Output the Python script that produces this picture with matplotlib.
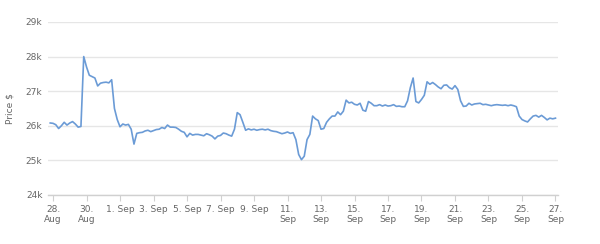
import numpy as np
import pandas as pd
import matplotlib
matplotlib.use("Agg")
from matplotlib import pyplot as plt
import matplotlib.dates as mdates

# price readings every 4 hours, starting 27 Aug 20:00
start_time = "2023-08-27 20:00"
price = [
    26.08, 26.07, 26.03, 25.92, 26.00, 26.10, 26.02, 26.08, 26.12, 26.05,
    25.96, 25.98, 28.00, 27.70, 27.46, 27.42, 27.38, 27.15, 27.23, 27.25,
    27.26, 27.24, 27.33, 26.50, 26.18, 25.97, 26.05, 26.02, 26.04, 25.90,
    25.47, 25.78, 25.80, 25.81, 25.85, 25.87, 25.83, 25.86, 25.89, 25.90,
    25.95, 25.92, 26.02, 25.96, 25.96, 25.95, 25.90, 25.84, 25.81, 25.68,
    25.78, 25.73, 25.75, 25.75, 25.73, 25.71, 25.77, 25.74, 25.70, 25.62,
    25.70, 25.72, 25.79, 25.77, 25.73, 25.70, 25.90, 26.38, 26.32, 26.10,
    25.87, 25.91, 25.88, 25.90, 25.87, 25.89, 25.90, 25.88, 25.90, 25.86,
    25.84, 25.83, 25.80, 25.77, 25.79, 25.82, 25.78, 25.80, 25.60, 25.17,
    25.02, 25.12, 25.60, 25.75, 26.28, 26.20, 26.15, 25.90, 25.92, 26.10,
    26.20, 26.28, 26.28, 26.40, 26.32, 26.42, 26.74, 26.66, 26.68, 26.62,
    26.60, 26.65, 26.45, 26.42, 26.70, 26.65, 26.58, 26.58, 26.61, 26.57,
    26.60, 26.57, 26.58, 26.61, 26.56, 26.57, 26.55, 26.55, 26.72, 27.10,
    27.38, 26.70, 26.66, 26.76, 26.88, 27.27, 27.20, 27.25, 27.19, 27.12,
    27.07, 27.17, 27.18, 27.10, 27.06, 27.16, 27.05, 26.72, 26.56, 26.57,
    26.65, 26.60, 26.63, 26.64, 26.65, 26.61, 26.62, 26.60, 26.58, 26.60,
    26.61, 26.60, 26.59, 26.60, 26.58, 26.60, 26.58, 26.55, 26.28, 26.18,
    26.14, 26.11, 26.20, 26.28, 26.30, 26.25, 26.30, 26.24, 26.17, 26.22,
    26.20, 26.22,
]
price = np.array(price) * 1000

tick_dates = ["2023-08-28", "2023-08-30", "2023-09-01", "2023-09-03", "2023-09-05",
              "2023-09-07", "2023-09-09", "2023-09-11", "2023-09-13", "2023-09-15",
              "2023-09-17", "2023-09-19", "2023-09-21", "2023-09-23", "2023-09-25",
              "2023-09-27"]
tick_labels = ["28.\nAug", "30.\nAug", "1. Sep", "3. Sep", "5. Sep", "7. Sep", "9. Sep",
               "11.\nSep", "13.\nSep", "15.\nSep", "17.\nSep", "19.\nSep", "21.\nSep",
               "23.\nSep", "25.\nSep", "27.\nSep"]
y_ticks = [24000, 25000, 26000, 27000, 28000, 29000]
y_labels = ["24k", "25k", "26k", "27k", "28k", "29k"]

times = pd.date_range(start_time, periods=len(price), freq="4h")

plt.rcParams['font.family'] = ['DejaVu Sans']
fig = plt.figure(figsize=(6, 2.44), dpi=100)
ax = fig.add_axes([0.08, 0.201, 0.85, 0.709])

ax.plot(times, price, color="#6b9bd6", linewidth=1.2)

ax.set_xlim(pd.Timestamp("2023-08-27 16:48"), pd.Timestamp("2023-09-27 03:36"))
ax.set_ylim(24000, 29000)

ax.set_yticks(y_ticks)
ax.set_yticklabels(y_labels)
ax.set_xticks(pd.to_datetime(tick_dates))
ax.set_xticklabels(tick_labels, linespacing=1.25)

ax.grid(axis="y", color="#e6e6e6", linewidth=1)
ax.set_axisbelow(True)
for s in ["top", "right", "left"]:
    ax.spines[s].set_visible(False)
ax.spines["bottom"].set_color("#d0d0d0")
ax.spines["bottom"].set_linewidth(1)

ax.tick_params(axis="y", length=0, pad=4, labelsize=6.5, labelcolor="#666666")
ax.tick_params(axis="x", length=4, color="#d0d0d0", pad=3, labelsize=6.5,
               labelcolor="#666666")

ax.set_ylabel("Price $", fontsize=6.5, color="#666666", labelpad=8)

fig.savefig("out.png", dpi=100)
